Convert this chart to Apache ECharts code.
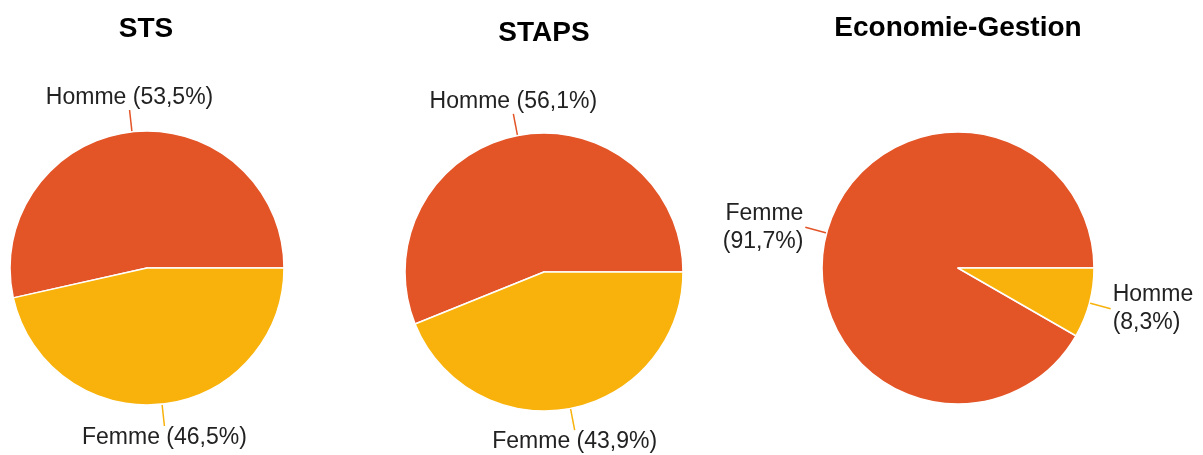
<!DOCTYPE html>
<html>
<head>
<meta charset="utf-8">
<script src="https://cdn.jsdelivr.net/npm/echarts@6/dist/echarts.min.js"></script>
<style>
  html, body { margin: 0; padding: 0; background: #fff; }
  #main { width: 1203px; height: 455px; }
</style>
</head>
<body>
<div id="main"></div>
<script>
// titres des trois camemberts
var titles = ['STS', 'STAPS', 'Economie-Gestion'];

// STS
var stsNames = ['Homme', 'Femme'];
var stsValues = [53.5, 46.5];
// STAPS
var stapsNames = ['Homme', 'Femme'];
var stapsValues = [56.1, 43.9];
// Economie-Gestion
var ecoNames = ['Femme', 'Homme'];
var ecoValues = [91.7, 8.3];

// la 1re part est toujours orange, la 2e jaune
var colors = ['#e35427', '#f8b20b'];
var labelFont = 'Liberation Sans';

function toData(names, values) {
    return names.map(function (n, i) {
        return { name: n, value: values[i], itemStyle: { color: colors[i] } };
    });
}

function pct(v) {
    return v.toFixed(1).replace('.', ',') + '%';
}

// place le texte au bout du trait, comme Google Charts
function placeLabel(params) {
    var pts = params.labelLinePoints;
    if (!pts) return {};
    var a = pts[0], b = pts[1];
    var dx = b[0] - a[0], dy = b[1] - a[1];
    var len = Math.sqrt(dx * dx + dy * dy) || 1;
    var cos = dx / len, sin = dy / len;
    var out = { x: b[0], y: b[1], labelLinePoints: [a, b, b] };
    if (Math.abs(cos) < 0.5) {
        out.align = 'center';
        out.verticalAlign = sin < 0 ? 'bottom' : 'top';
    } else {
        out.align = cos < 0 ? 'right' : 'left';
        out.verticalAlign = 'middle';
        out.x = b[0] + (cos < 0 ? -2 : 2);
    }
    return out;
}

function makePie(names, values, center, radius, wrap) {
    return {
        type: 'pie',
        center: center,
        radius: radius,
        startAngle: 0,
        clockwise: false,
        avoidLabelOverlap: false,
        silent: true,
        data: toData(names, values),
        itemStyle: { borderColor: '#fff', borderWidth: 1.5 },
        label: {
            show: true,
            position: 'outside',
            color: '#222',
            fontSize: 23,
            fontFamily: labelFont,
            lineHeight: wrap ? 28 : 24,
            formatter: function (p) {
                return p.name + (wrap ? '\n' : ' ') + '(' + pct(p.value) + ')';
            }
        },
        labelLine: {
            show: true,
            length: 22,
            length2: 0,
            smooth: false,
            lineStyle: { width: 1.5 }
        },
        labelLayout: placeLabel,
        emphasis: { disabled: true }
    };
}

var myChart = echarts.init(document.getElementById('main'));

var option = {
    animation: false,
    backgroundColor: '#fff',
    color: colors,
    graphic: [
        { type: 'text', x: 146, y: 29, style: { text: titles[0], align: 'center', verticalAlign: 'middle', font: 'bold 28px "Liberation Sans"', fill: '#000' } },
        { type: 'text', x: 544, y: 33, style: { text: titles[1], align: 'center', verticalAlign: 'middle', font: 'bold 28px "Liberation Sans"', fill: '#000' } },
        { type: 'text', x: 958, y: 28, style: { text: titles[2], align: 'center', verticalAlign: 'middle', font: 'bold 28px "Liberation Sans"', fill: '#000' } }
    ],
    series: [
        makePie(stsNames, stsValues, [147, 268], 137, false),
        makePie(stapsNames, stapsValues, [544, 272], 139, false),
        makePie(ecoNames, ecoValues, [958, 268], 136, true)
    ]
};

myChart.setOption(option);
</script>
</body>
</html>
